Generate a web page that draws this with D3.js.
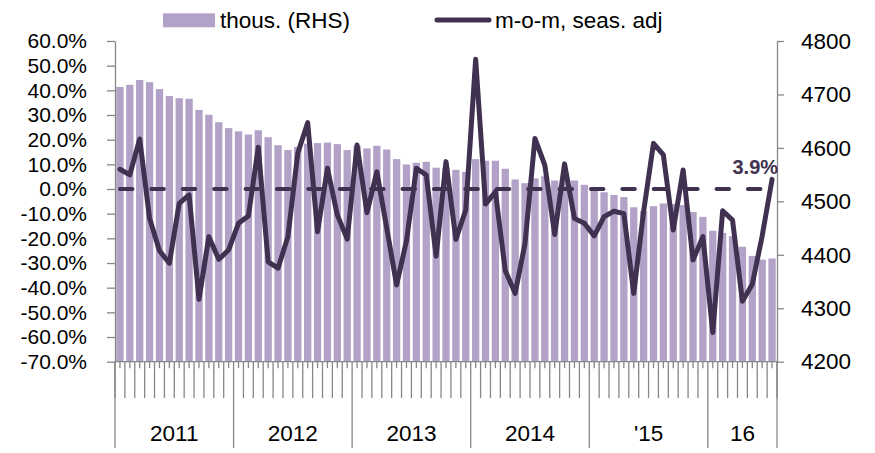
<!DOCTYPE html>
<html>
<head>
<meta charset="utf-8">
<script src="https://cdn.jsdelivr.net/npm/d3@7"></script>
<style>
  body { margin: 0; background: #fff; }
  svg { display: block; }
  text { font-family: "Liberation Sans", Arial, sans-serif; fill: #000; }
</style>
</head>
<body>
<div id="chart"></div>
<script>
// year groups on the category axis, months per group
const yearLabels = ["2011", "2012", "2013", "2014", "'15", "16"];
const monthsPerYear = [12, 12, 12, 12, 12, 7];

// bars, thousands (right axis)
const employed = [
    4714, 4718, 4727, 4723, 4710, 4697, 4693, 4692, 4671, 4662, 4648, 4637,
    4631, 4625, 4633, 4620, 4605, 4596, 4602, 4608, 4609, 4610, 4607, 4596,
    4604, 4599, 4604, 4597, 4579, 4569, 4572, 4574, 4563, 4562, 4559, 4555,
    4579, 4576, 4576, 4561, 4541, 4534, 4543, 4547, 4539, 4540, 4539, 4531,
    4520, 4517, 4512, 4508, 4489, 4482, 4491, 4496, 4495, 4493, 4480, 4471,
    4445, 4441, 4435, 4415, 4398, 4391, 4393
];

// line, m-o-m % change, seasonally adjusted (left axis)
const momChange = [
    8.0, 5.7, 20.3, -11.9, -25.0, -30.1, -5.8, -2.4, -44.7, -19.3, -28.5, -24.7,
    -13.9, -10.9, 16.9, -29.5, -32.1, -19.3, 14.5, 26.9, -17.3, 8.4, -10.5, -20.3,
    17.8, -9.6, 7.0, -15.8, -38.9, -21.0, 8.4, 5.7, -27.2, 11.1, -20.4, -8.5,
    52.6, -6.1, -1.1, -33.1, -42.3, -22.0, 20.5, 9.7, -18.4, 10.2, -11.9, -13.9,
    -19.0, -11.2, -9.0, -10.0, -42.3, -9.2, 18.5, 13.8, -16.6, 7.7, -28.8, -19.3,
    -58.2, -8.8, -12.6, -45.5, -38.6, -19.0, 3.9
];

const leftTicks = [60, 50, 40, 30, 20, 10, 0, -10, -20, -30, -40, -50, -60, -70];
const rightTicks = [4800, 4700, 4600, 4500, 4400, 4300, 4200];
const barLabel = "thous. (RHS)";
const lineLabel = "m-o-m, seas. adj";
const lastLabel = "3.9%";

const barColor = "#b3a2c7";
const lineColor = "#403151";
const axisColor = "#878787";

const width = 875;
const height = 453;
const marginLeft = 115;
const marginRight = 98;
const marginTop = 41;
const plotBottom = 361.7;

// one category per month
const months = yearLabels.flatMap((y, i) => d3.range(monthsPerYear[i]).map(m => `${y}-${m + 1}`));

const x = d3.scaleBand()
    .domain(months)
    .range([marginLeft, width - marginRight])
    .paddingInner(0.26)
    .paddingOuter(0.13);

// category index -> pixel, for the boundary ticks
const xi = d3.scaleLinear()
    .domain([0, months.length])
    .range([marginLeft, width - marginRight]);

const yL = d3.scaleLinear().domain([-70, 60]).range([plotBottom, marginTop]);
const yR = d3.scaleLinear().domain([4200, 4800]).range([plotBottom, marginTop]);

const cx = m => x(m) + x.bandwidth() / 2;

const svg = d3.select("#chart").append("svg")
    .attr("width", width)
    .attr("height", height);

// bars
svg.append("g")
    .selectAll("rect")
    .data(months)
    .join("rect")
    .attr("x", m => x(m))
    .attr("y", (m, i) => yR(employed[i]))
    .attr("width", x.bandwidth())
    .attr("height", (m, i) => yR(4200) - yR(employed[i]))
    .attr("fill", barColor);

// left axis
const gl = svg.append("g")
    .attr("transform", `translate(${marginLeft},0)`)
    .call(d3.axisLeft(yL)
        .tickValues(leftTicks)
        .tickFormat(d => d.toFixed(1) + "%")
        .tickSize(8)
        .tickSizeOuter(0)
        .tickPadding(20));

// right axis
const gr = svg.append("g")
    .attr("transform", `translate(${width - marginRight},0)`)
    .call(d3.axisRight(yR)
        .tickValues(rightTicks)
        .tickFormat(d3.format("d"))
        .tickSize(7)
        .tickSizeOuter(0)
        .tickPadding(17));

[gl, gr].forEach(g => {
    g.selectAll("path, line").attr("stroke", axisColor).attr("stroke-width", 1.3);
    g.selectAll("text")
        .attr("font-family", "Liberation Sans, Arial, sans-serif")
        .attr("fill", "#000");
});
gl.selectAll("text").attr("font-size", 21);
gr.selectAll("text").attr("font-size", 22.5);

// category axis
const gx = svg.append("g").attr("stroke", axisColor).attr("stroke-width", 1.3);

gx.append("line")
    .attr("x1", marginLeft).attr("x2", width - marginRight)
    .attr("y1", plotBottom).attr("y2", plotBottom);

// short ticks at month centres
gx.selectAll(".tc")
    .data(months)
    .join("line")
    .attr("class", "tc")
    .attr("x1", cx).attr("x2", cx)
    .attr("y1", plotBottom).attr("y2", plotBottom + 6.5);

// long ticks at month boundaries
gx.selectAll(".tb")
    .data(d3.range(months.length + 1))
    .join("line")
    .attr("class", "tb")
    .attr("x1", d => xi(d)).attr("x2", d => xi(d))
    .attr("y1", plotBottom).attr("y2", 398);

// year boundaries
const yearEdges = [0, ...d3.cumsum(monthsPerYear)];
gx.selectAll(".ty")
    .data(yearEdges)
    .join("line")
    .attr("class", "ty")
    .attr("x1", d => xi(d)).attr("x2", d => xi(d))
    .attr("y1", (d, i) => (i === 0 || i === yearEdges.length - 1) ? plotBottom : 398)
    .attr("y2", 448);

svg.append("g")
    .selectAll("text")
    .data(yearLabels)
    .join("text")
    .attr("x", (d, i) => (xi(yearEdges[i]) + xi(yearEdges[i + 1])) / 2)
    .attr("y", 441)
    .attr("text-anchor", "middle")
    .attr("font-size", 22.5)
    .text(d => d);

// zero reference, dashed
svg.append("line")
    .attr("x1", cx(months[0]))
    .attr("x2", cx(months[months.length - 1]))
    .attr("y1", yL(0)).attr("y2", yL(0))
    .attr("stroke", lineColor)
    .attr("stroke-width", 4)
    .attr("stroke-linecap", "round")
    .attr("stroke-dasharray", "12.5,18.9");

// m-o-m line
const line = d3.line()
    .x((d, i) => cx(months[i]))
    .y(d => yL(d));

svg.append("path")
    .datum(momChange)
    .attr("d", line)
    .attr("fill", "none")
    .attr("stroke", lineColor)
    .attr("stroke-width", 5)
    .attr("stroke-linejoin", "round")
    .attr("stroke-linecap", "round");

// label of the last value
const lastM = months[months.length - 1];
svg.append("text")
    .attr("x", cx(lastM) + 6)
    .attr("y", yL(momChange[momChange.length - 1]) - 5)
    .attr("text-anchor", "end")
    .attr("font-size", 20)
    .attr("font-weight", "bold")
    .style("fill", lineColor)
    .text(lastLabel);

// legend
const legend = svg.append("g");
legend.append("rect")
    .attr("x", 163).attr("y", 13.3)
    .attr("width", 52).attr("height", 14)
    .attr("fill", barColor);
legend.append("text")
    .attr("x", 220).attr("y", 28)
    .attr("font-size", 22.5)
    .text(barLabel);
legend.append("line")
    .attr("x1", 437).attr("x2", 489)
    .attr("y1", 20).attr("y2", 20)
    .attr("stroke", lineColor)
    .attr("stroke-width", 5)
    .attr("stroke-linecap", "round");
legend.append("text")
    .attr("x", 495).attr("y", 28)
    .attr("font-size", 22.5)
    .text(lineLabel);
</script>
</body>
</html>
